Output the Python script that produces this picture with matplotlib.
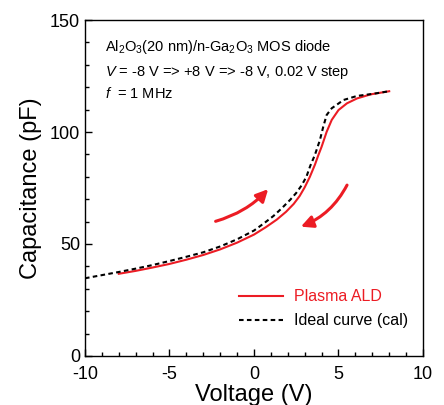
import matplotlib
matplotlib.use("Agg")
import matplotlib.pyplot as plt
from matplotlib.ticker import MultipleLocator

plt.rcParams['font.family'] = ['Liberation Sans', 'DejaVu Sans']
plt.rcParams['mathtext.fontset'] = 'custom'
plt.rcParams['mathtext.rm'] = 'Liberation Sans'
plt.rcParams['mathtext.it'] = 'Liberation Sans:italic'
plt.rcParams['axes.unicode_minus'] = False

# measured C-V sweep (plasma ALD)
v_meas = [-8, -7, -6, -5, -4, -3, -2, -1, 0, 0.7, 1.35, 1.9, 2.35, 2.7, 3.0,
          3.3, 3.6, 3.8, 4.0, 4.3, 4.6, 5.0, 5.5, 6.1, 6.9, 8.0]
c_meas = [36.7, 38.0, 39.5, 41.1, 43.0, 45.1, 47.6, 50.6, 54.2, 57.5, 60.9,
          64.4, 67.9, 71.4, 75.3, 79.9, 85.3, 89.5, 93.4, 100.1, 105.4, 109.8,
          112.8, 115.0, 116.8, 118.2]

# ideal calculated curve
v_ideal = [-10, -9, -8, -7, -6, -5, -4, -3, -2, -1, 0, 0.6, 1.15, 1.65, 2.15,
           2.5, 2.82, 3.1, 3.33, 3.6, 3.9, 4.1, 4.3, 4.6, 5.3, 6.1, 7.0, 8.0]
c_ideal = [34.7, 36.1, 37.5, 39.0, 40.6, 42.4, 44.3, 46.3, 48.9, 52.1, 56.0,
           59.3, 62.5, 66.0, 69.8, 72.8, 76.2, 80.0, 84.9, 89.7, 96.4, 102.4,
           107.6, 110.6, 114.3, 116.1, 117.0, 118.2]

# sweep direction arrows (start, end) in data units
arrow_up = [(-2.43, 59.8), (0.95, 75.4)]
arrow_down = [(5.58, 77.4), (2.62, 57.3)]

red = '#ec1c24'

fig = plt.figure(figsize=(4.44, 4.05), dpi=100)
ax = fig.add_axes([0.1914, 0.121, 0.7613, 0.8296])

ax.plot(v_meas, c_meas, color=red, lw=1.5, label='Plasma ALD')
ax.plot(v_ideal, c_ideal, color='black', lw=1.5, ls=(0, (2.2, 1.6)),
        label='Ideal curve (cal)')

ax.annotate('', xy=arrow_up[1], xytext=arrow_up[0],
            arrowprops=dict(arrowstyle='-|>', color=red, lw=2.2,
                            mutation_scale=18,
                            connectionstyle='arc3,rad=0.15'))
ax.annotate('', xy=arrow_down[1], xytext=arrow_down[0],
            arrowprops=dict(arrowstyle='-|>', color=red, lw=2.2,
                            mutation_scale=18,
                            connectionstyle='arc3,rad=-0.2'))

ax.set_xlim(-10, 10)
ax.set_ylim(0, 150)
ax.xaxis.set_major_locator(MultipleLocator(5))
ax.xaxis.set_minor_locator(MultipleLocator(1))
ax.yaxis.set_major_locator(MultipleLocator(50))
ax.yaxis.set_minor_locator(MultipleLocator(10))
ax.tick_params(which='both', direction='in', top=False, right=False,
               labelsize=13, width=1)
ax.tick_params(which='major', length=5)
ax.tick_params(which='minor', length=3)
ax.tick_params(axis='x', pad=7)
for s in ax.spines.values():
    s.set_linewidth(1)

ax.set_xlabel('Voltage (V)', fontsize=17, labelpad=1)
ax.set_ylabel('Capacitance (pF)', fontsize=17, labelpad=6)

ax.text(0.06, 0.92, r'Al$_2$O$_3$(20 nm)/n-Ga$_2$O$_3$ MOS diode',
        transform=ax.transAxes, fontsize=10.5, va='center')
ax.text(0.06, 0.845, r'$\mathit{V}$ = -8 V => +8 V => -8 V, 0.02 V step',
        transform=ax.transAxes, fontsize=10.5, va='center')
ax.text(0.06, 0.782, r'$\mathit{f}$  = 1 MHz',
        transform=ax.transAxes, fontsize=10.5, va='center')

leg = ax.legend(loc='lower right', frameon=False, fontsize=11.5,
                handlelength=2.8, handletextpad=0.7, labelspacing=0.55,
                bbox_to_anchor=(1.0, 0.04))
leg.get_texts()[0].set_color(red)

fig.savefig('out.png', dpi=100)
